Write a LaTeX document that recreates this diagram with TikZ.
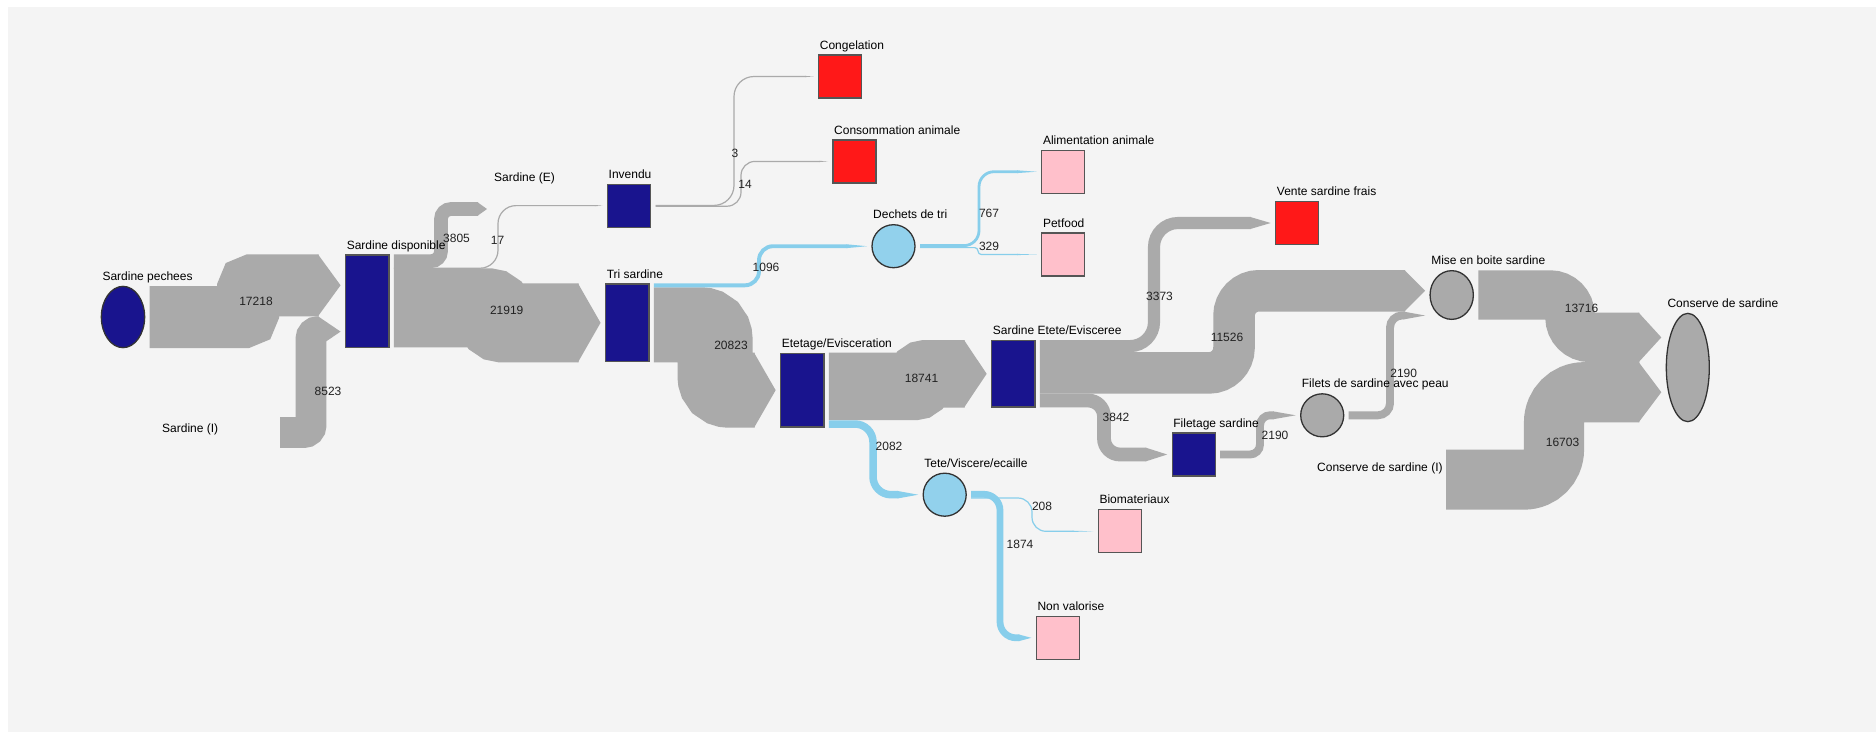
\documentclass[tikz,border=0pt]{standalone}
\usepackage{fontspec}
\setmainfont{Liberation Sans}
\usetikzlibrary{calc,shapes.geometric}

\definecolor{pagebg}{RGB}{244,244,244}
\definecolor{procblue}{RGB}{25,20,142}
\definecolor{salered}{RGB}{255,24,24}
\definecolor{losspink}{RGB}{255,192,203}
\definecolor{wastecyan}{RGB}{146,209,236}
\definecolor{greyflow}{RGB}{170,170,170}
\definecolor{blueflow}{RGB}{135,206,235}
\definecolor{boxline}{RGB}{85,85,85}
\definecolor{ringline}{RGB}{51,51,51}
\definecolor{valtext}{RGB}{34,34,34}

\tikzset{
  box/.style={draw=boxline, line width=1.3pt, inner sep=0pt, outer sep=0pt,
              minimum width=43pt, minimum height=43pt},
  proc/.style={box, fill=procblue},
  sale/.style={box, fill=salered},
  loss/.style={box, fill=losspink},
  ring/.style={draw=ringline, line width=1.3pt, inner sep=0pt, outer sep=0pt},
  waste/.style={ring, circle, fill=wastecyan, minimum size=43pt},
  prod/.style={ring, fill=greyflow},
  ghost/.style={inner sep=0pt, outer sep=0pt, minimum size=0pt},
  nodelabel/.style={anchor=base west, inner sep=0pt, font=\fontsize{12}{14}\selectfont, text=black},
  val/.style={anchor=base, inner sep=0pt, font=\fontsize{12}{14}\selectfont, text=valtext},
}

% Sankey ribbon: colour, width, source node, source y, bend x,
% target node, target y, corner radius, arrow length
\newcommand\flow[9]{%
  \draw[#1, line width=#2pt, rounded corners=#8pt]
    let \p1=(#3.east), \p2=(#6.west) in
    (\x1+5pt,-#4pt) -- (#5pt,-#4pt) -- (#5pt,-#7pt) -- (\x2-5pt-#9pt,-#7pt);
  \fill[#1]
    let \p2=(#6.west) in
    (\x2-5.6pt-#9pt,-#7pt+#2pt/2) -- (\x2-5pt,-#7pt) -- (\x2-5.6pt-#9pt,-#7pt-#2pt/2) -- cycle;
}

% Caption placed above the top-left corner of a node
\newcommand\nodetext[2]{%
  \path let \p1=(#1.west), \p2=(#1.north) in
    node[nodelabel] (#1-text) at (\x1+1pt,\y2+5.9pt) {#2};
}

\begin{document}
\begin{tikzpicture}[x=1pt,y=-1pt]
\useasboundingbox (0,0) rectangle (1876,732);
\fill[white] (0,0) rectangle (1876,732);
\fill[pagebg] (8,7) rectangle (1876,732);

% ---- nodes ----
\node[ring, ellipse, fill=procblue, minimum width=43.3pt, minimum height=61.3pt] (pech) at (123,317) {};
\node[ghost] (sardI) at (275,432.5) {};
\node[proc, minimum width=43.3pt, minimum height=92.7pt] (disp) at (367.2,301.3) {};
\node[ghost] (sardE) at (492,209) {};
\node[proc] (inv) at (629,206) {};
\node[proc, minimum width=43.3pt, minimum height=77.7pt] (tri) at (627.2,322.8) {};
\node[sale] (congel) at (840.2,76.5) {};
\node[sale] (consanim) at (854.5,161.4) {};
\node[waste] (dechets) at (893.5,246.2) {};
\node[loss] (alim) at (1063.3,171.7) {};
\node[loss] (petfood) at (1063.3,254.5) {};
\node[proc, minimum width=43.3pt, minimum height=73.7pt] (etet) at (802.3,390.2) {};
\node[waste] (tete) at (944.7,494.7) {};
\node[loss] (bio) at (1119.8,531.3) {};
\node[loss] (nonval) at (1057.8,637.8) {};
\node[proc, minimum width=43.3pt, minimum height=66.4pt] (see) at (1013.3,373.8) {};
\node[sale] (vente) at (1297.2,223) {};
\node[proc] (filetage) at (1193.7,454.5) {};
\node[prod, circle, minimum size=43pt] (filets) at (1322.2,415.3) {};
\node[prod, ellipse, minimum width=43.3pt, minimum height=48.7pt] (mise) at (1451.7,295) {};
\node[ghost] (conservI) at (1441,479.6) {};
\node[prod, ellipse, minimum width=43pt, minimum height=108.3pt] (conserve) at (1687.8,367.5) {};

% ---- flows (thin ones first, thick bands over them) ----
\flow{greyflow}{1.2}{disp}{268.2}{498}{inv}{205.6}{18}{7}
\flow{greyflow}{1.2}{inv}{205.4}{734}{congel}{76.5}{20}{8}
\flow{greyflow}{1.2}{inv}{206.2}{741}{consanim}{161.4}{14}{8}
\flow{greyflow}{62}{pech}{317}{248}{disp}{285.3}{5}{22}
\flow{greyflow}{30.7}{sardI}{432.5}{311}{disp}{331.6}{7}{22}
\flow{greyflow}{13.7}{disp}{261.2}{441}{sardE}{209}{10}{9}
\flow{greyflow}{78.9}{disp}{307.8}{495}{tri}{322.8}{7}{22}
\flow{greyflow}{75}{tri}{324.8}{715}{etet}{390.2}{14}{21}
\flow{greyflow}{67.5}{etet}{386.4}{920}{see}{373.8}{6}{22}
\flow{greyflow}{12.1}{see}{346.1}{1154}{vente}{223}{24}{20}
\flow{greyflow}{41.5}{see}{372.9}{1234}{mise}{290.75}{25}{20}
\flow{greyflow}{13.8}{see}{400.5}{1104}{filetage}{454.5}{16}{21}
\flow{greyflow}{7.9}{filetage}{454.5}{1260}{filets}{415.3}{10}{22}
\flow{greyflow}{7.9}{filets}{415.3}{1390}{mise}{315.5}{12}{21}
\flow{greyflow}{49.4}{mise}{295}{1570}{conserve}{337.4}{20}{22}
\flow{greyflow}{60.1}{conservI}{479.6}{1554}{conserve}{392.2}{30}{22}

\flow{blueflow}{3.9}{tri}{285.3}{759}{dechets}{246.2}{14}{20}
\flow{blueflow}{2.8}{dechets}{245.6}{979}{alim}{171.7}{15}{19}
\flow{blueflow}{1.2}{dechets}{247.6}{978}{petfood}{254.5}{3.4}{19}
\flow{blueflow}{7.5}{etet}{424}{873}{tete}{494.7}{18}{20}
\flow{blueflow}{1.2}{tete}{498}{1032}{bio}{531.3}{14}{20}
\flow{blueflow}{6.75}{tete}{494.3}{1000}{nonval}{637.8}{16}{12}

% ---- flow values ----
\node[val] (v-pech) at (256,305.3) {17218};
\node[val] (v-sardI) at (328,395.3) {8523};
\node[val] (v-sardE) at (456.5,242.3) {3805};
\node[val] (v-inv) at (497.5,244.3) {17};
\node[val] (v-tri) at (506.7,314.3) {21919};
\node[val] (v-congel) at (735,157.3) {3};
\node[val] (v-consanim) at (745,188.3) {14};
\node[val] (v-dechets) at (766,271.3) {1096};
\node[val] (v-etet) at (731,349.3) {20823};
\node[val] (v-alim) at (989,217.3) {767};
\node[val] (v-petfood) at (989,250.3) {329};
\node[val] (v-tete) at (889,450.3) {2082};
\node[val] (v-bio) at (1042,510.3) {208};
\node[val] (v-nonval) at (1020,548.3) {1874};
\node[val] (v-see) at (921.5,382.3) {18741};
\node[val] (v-vente) at (1159.5,300.3) {3373};
\node[val] (v-mise) at (1227,341.3) {11526};
\node[val] (v-filetage) at (1116,421.3) {3842};
\node[val] (v-filets) at (1275,439.3) {2190};
\node[val] (v-mise2) at (1403.7,377.6) {2190};
\node[val] (v-conserve) at (1581.5,312) {13716};
\node[val] (v-conserve2) at (1562.5,446) {16703};

% ---- node captions ----
\nodetext{pech}{Sardine pechees}
\nodetext{disp}{Sardine disponible}
\nodetext{inv}{Invendu}
\nodetext{tri}{Tri sardine}
\nodetext{congel}{Congelation}
\nodetext{consanim}{Consommation animale}
\nodetext{dechets}{Dechets de tri}
\nodetext{alim}{Alimentation animale}
\nodetext{petfood}{Petfood}
\nodetext{etet}{Etetage/Evisceration}
\nodetext{tete}{Tete/Viscere/ecaille}
\nodetext{bio}{Biomateriaux}
\nodetext{nonval}{Non valorise}
\nodetext{see}{Sardine Etete/Evisceree}
\nodetext{vente}{Vente sardine frais}
\nodetext{filetage}{Filetage sardine}
\nodetext{filets}{Filets de sardine avec peau}
\nodetext{mise}{Mise en boite sardine}
\nodetext{conserve}{Conserve de sardine}
\node[nodelabel] (sardI-text) at (162,432.3) {Sardine (I)};
\node[nodelabel] (sardE-text) at (494,181) {Sardine (E)};
\node[nodelabel] (conservI-text) at (1317,471) {Conserve de sardine (I)};
\end{tikzpicture}
\end{document}
